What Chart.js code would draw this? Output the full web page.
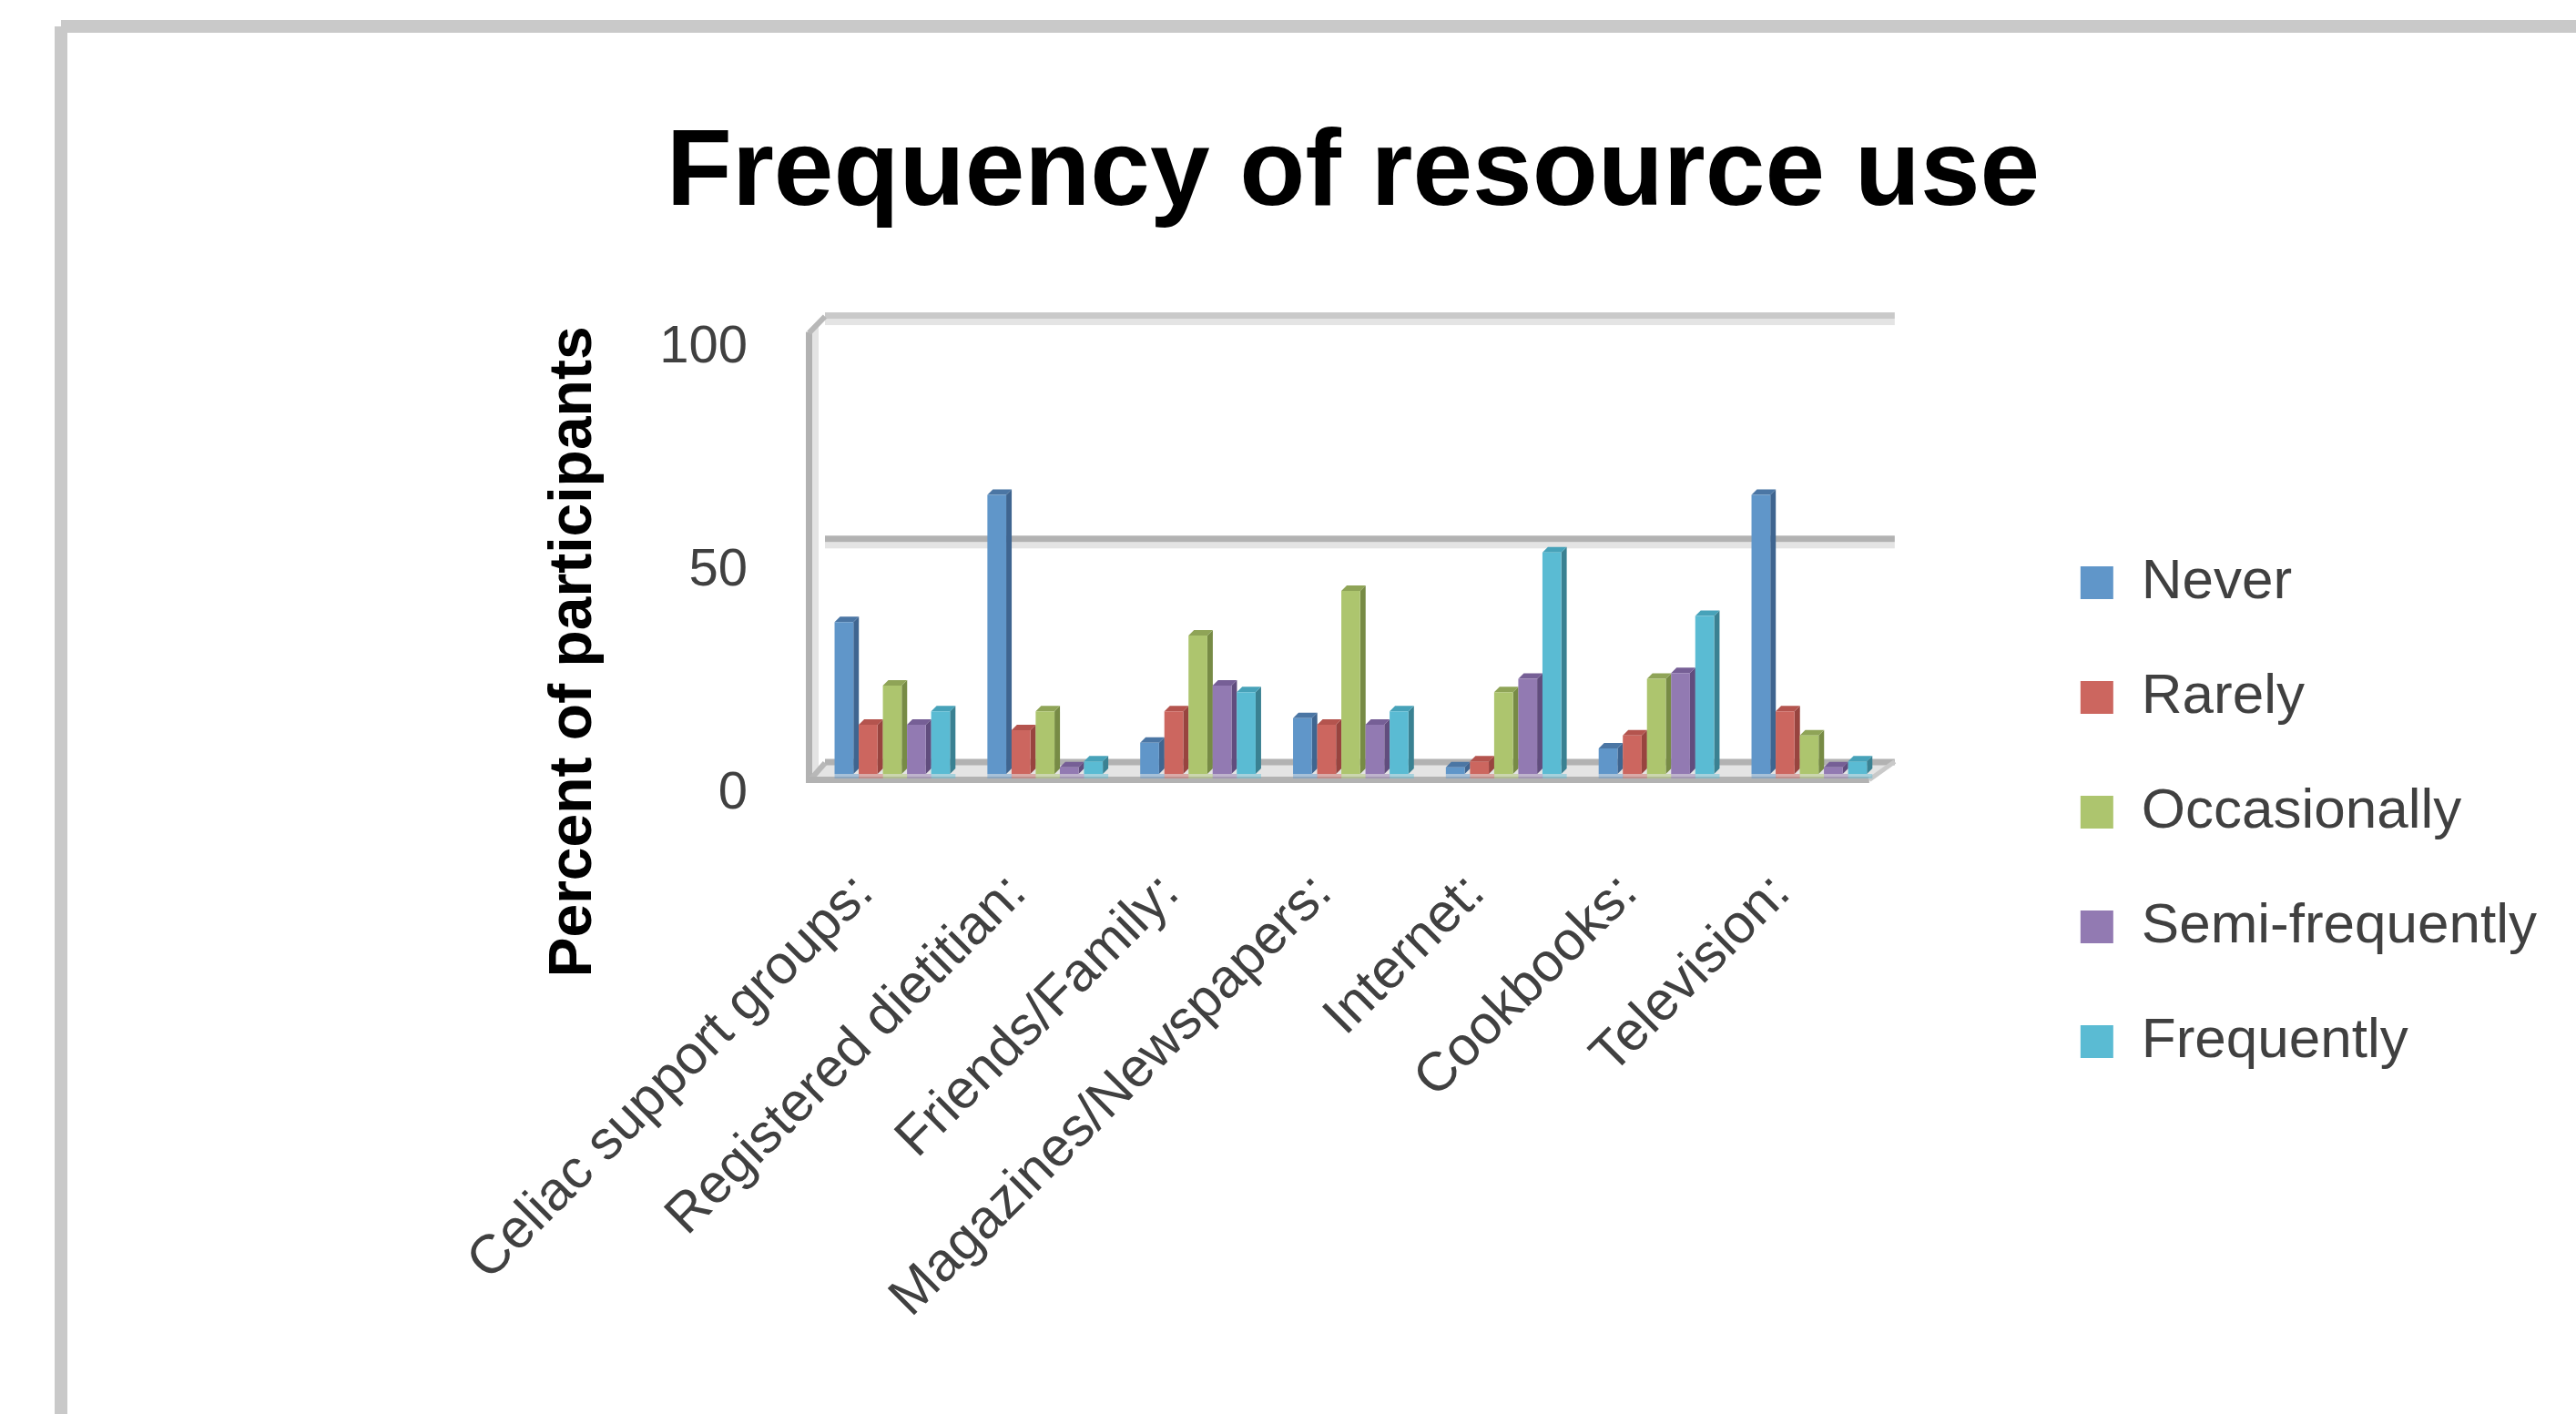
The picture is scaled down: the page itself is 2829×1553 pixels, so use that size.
<!DOCTYPE html>
<html>
<head>
<meta charset="utf-8">
<script src="https://cdn.jsdelivr.net/npm/chart.js@4.4.1/dist/chart.umd.min.js"></script>
<style>
  html, body { margin: 0; padding: 0; background: #ffffff; }
  canvas { display: block; }
</style>
</head>
<body>
<canvas id="c" width="2829" height="1553"></canvas>
<script>
// ---------------- data ----------------
const categories = [
  "Celiac support groups:",
  "Registered dietitian:",
  "Friends/Family:",
  "Magazines/Newspapers:",
  "Internet:",
  "Cookbooks:",
  "Television:"
];
const seriesNames = ["Never", "Rarely", "Occasionally", "Semi-frequently", "Frequently"];
const never          = [34, 62.5, 7, 12.5, 1.5, 5.7, 62.5];
const rarely         = [11, 9.8, 14, 11, 2.8, 8.6, 14];
const occasionally   = [19.8, 14, 31, 41, 18.3, 21.3, 8.6];
const semiFrequently = [11, 1.5, 19.8, 11, 21.3, 22.6, 1.5];
const frequently     = [14, 2.8, 18.3, 14, 49.6, 35.4, 2.8];
const seriesValues = [never, rarely, occasionally, semiFrequently, frequently];
const yTicks = [0, 50, 100];
const chartTitle = "Frequency of resource use";
const yAxisTitle = "Percent of participants";

// ---------------- styles ----------------
const FONT = "'Liberation Sans', Arial, sans-serif";
const FRONT = ["#6096c9", "#cc665f", "#adc56e", "#927ab2", "#5abbd3"];
const TOPC  = ["#4b76a4", "#b4544e", "#8fa457", "#765f96", "#47a2b9"];
const SIDE  = ["#3f6590", "#98443f", "#778b45", "#614d7e", "#3a8192"];

const wallPlugin = {
  id: 'walls',
  beforeDraw(chart) {
    const { ctx, chartArea: a, scales: { y } } = chart;
    ctx.save();
    ctx.fillStyle = '#ffffff';
    ctx.fillRect(0, 0, chart.width, chart.height);
    // outer frame
    ctx.fillStyle = '#c9c9c9';
    ctx.fillRect(67, 22, chart.width - 67, 14);
    ctx.fillRect(60, 29, 14, chart.height - 29);

    const y0 = y.getPixelForValue(0);
    const yTop = y.getPixelForValue(100);
    // floor
    ctx.fillStyle = '#e4e4e4';
    ctx.beginPath();
    ctx.moveTo(a.left - 11, y0 + 6.5);
    ctx.lineTo(a.left + 10, y0 - 13.5);
    ctx.lineTo(a.right + 10, y0 - 13.5);
    ctx.lineTo(a.right - 18, y0 + 6.5);
    ctx.closePath();
    ctx.fill();
    // back wall grid lines
    yTicks.forEach(v => {
      const yy = y.getPixelForValue(v) - 13;
      ctx.fillStyle = '#e4e4e4';
      if (v !== 0) ctx.fillRect(a.left + 10, yy + 3.5, a.right - a.left, 7);
      ctx.fillStyle = v === 100 ? '#c9c9c9' : '#b2b2b2';
      ctx.fillRect(a.left + 10, yy - 3.5, a.right - a.left, 7);
    });
    // left wall
    ctx.fillStyle = '#e4e4e4';
    ctx.fillRect(a.left - 4, yTop - 2, 7, y0 - yTop + 5);
    ctx.fillStyle = '#b2b2b2';
    ctx.fillRect(a.left - 11, yTop + 5, 7, y0 - yTop + 5);
    ctx.strokeStyle = '#b8b8b8';
    ctx.lineWidth = 6;
    ctx.beginPath();
    ctx.moveTo(a.left - 7.5, yTop + 6);
    ctx.lineTo(a.left + 10, yTop - 12);
    ctx.stroke();
    ctx.beginPath();
    ctx.moveTo(a.left - 7.5, y0 + 8);
    ctx.lineTo(a.left + 10, y0 - 12);
    ctx.stroke();
    // front floor edge
    ctx.fillStyle = '#b2b2b2';
    ctx.fillRect(a.left - 11, y0 + 3, a.right - a.left - 7, 7);
    ctx.strokeStyle = '#c9c9c9';
    ctx.lineWidth = 5;
    ctx.beginPath();
    ctx.moveTo(a.right - 18, y0 + 6.5);
    ctx.lineTo(a.right + 10, y0 - 13.5);
    ctx.stroke();
    ctx.restore();
  }
};

const bar3dPlugin = {
  id: 'bar3d',
  beforeDatasetsDraw(chart) {
    const ctx = chart.ctx;
    const d = 6;
    ctx.save();
    chart.data.datasets.forEach((ds, i) => {
      const meta = chart.getDatasetMeta(i);
      meta.data.forEach(bar => {
        const { x, y, base, width } = bar.getProps(['x', 'y', 'base', 'width'], true);
        const L = x - width / 2, R = x + width / 2;
        ctx.globalAlpha = 0.45;
        ctx.fillStyle = FRONT[i];
        ctx.fillRect(L, base, width + d, 5);
        ctx.globalAlpha = 1;
        ctx.fillStyle = SIDE[i];
        ctx.beginPath();
        ctx.moveTo(R, y); ctx.lineTo(R + d, y - d); ctx.lineTo(R + d, base - d); ctx.lineTo(R, base);
        ctx.closePath(); ctx.fill();
        ctx.fillStyle = TOPC[i];
        ctx.beginPath();
        ctx.moveTo(L, y); ctx.lineTo(L + d, y - d); ctx.lineTo(R + d, y - d); ctx.lineTo(R, y);
        ctx.closePath(); ctx.fill();
      });
    });
    ctx.restore();
  }
};

const yTitlePlugin = {
  id: 'yTitle',
  afterDraw(chart) {
    const ctx = chart.ctx;
    ctx.save();
    ctx.translate(631, 716);
    ctx.rotate(-Math.PI / 2);
    ctx.font = "bold 66px " + FONT;
    ctx.fillStyle = '#000000';
    ctx.textAlign = 'center';
    ctx.textBaseline = 'middle';
    ctx.fillText(yAxisTitle, 0, 0);
    ctx.restore();
  }
};

const ctx = document.getElementById('c').getContext('2d');
new Chart(ctx, {
  type: 'bar',
  data: {
    labels: categories,
    datasets: seriesNames.map((name, i) => ({
      label: name,
      data: seriesValues[i],
      backgroundColor: FRONT[i],
      borderWidth: 0,
      categoryPercentage: 0.79,
      barPercentage: 0.78
    }))
  },
  options: {
    responsive: false,
    animation: false,
    devicePixelRatio: 1,
    layout: { padding: { left: 176, right: 33, top: 0, bottom: 53 } },
    plugins: {
      title: {
        display: true,
        text: chartTitle,
        color: '#000000',
        font: { family: FONT, size: 118, weight: 'bold', lineHeight: 1.2 },
        padding: { top: 122, bottom: 96 }
      },
      legend: {
        position: 'right',
        align: 'start',
        fullSize: true,
        title: { display: true, text: ' ', font: { size: 10, lineHeight: 1.2 }, padding: { top: 533, bottom: 0 } },
        labels: {
          boxWidth: 36, boxHeight: 36, padding: 64,
          color: '#404040',
          font: { family: FONT, size: 62 }
        }
      },
      tooltip: { enabled: false }
    },
    scales: {
      x: {
        ticks: {
          autoSkip: false, maxRotation: 45, minRotation: 45, padding: 88, labelOffset: -30,
          color: '#404040', font: { family: FONT, size: 60 }
        },
        grid: { display: false },
        border: { display: false },
        afterFit: s => { s.height = 650; }
      },
      y: {
        min: 0, max: 100,
        afterBuildTicks: s => { s.ticks = yTicks.map(v => ({ value: v })); },
        ticks: { padding: 67, labelOffset: 22, color: '#404040', font: { family: FONT, size: 58 } },
        grid: { display: false },
        border: { display: false },
        afterFit: s => { s.width = 720; }
      },
      yR: {
        type: 'linear',
        position: 'right',
        display: false,
        afterFit: s => { s.width = 150; }
      }
    }
  },
  plugins: [wallPlugin, bar3dPlugin, yTitlePlugin]
});
</script>
</body>
</html>
